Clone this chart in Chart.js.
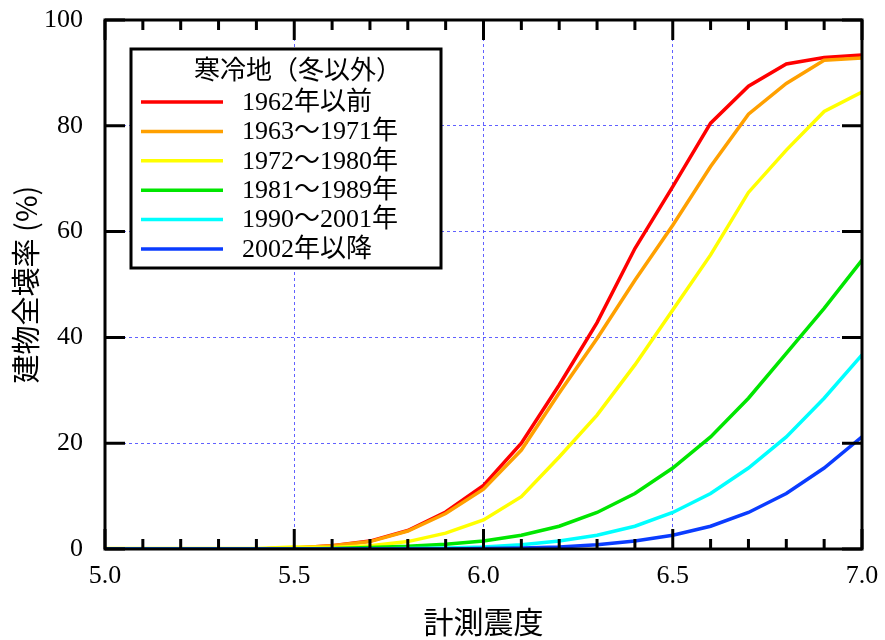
<!DOCTYPE html>
<html>
<head>
<meta charset="utf-8">
<script src="https://cdn.jsdelivr.net/npm/chart.js@4.4.1/dist/chart.umd.min.js"></script>
<style>
  body { margin: 0; background: #fff; }
  #wrap { width: 885px; height: 640px; }
</style>
</head>
<body>
<div id="wrap"><canvas id="myChart" width="885" height="640"></canvas></div>
<script>
// Intensity values on the x axis (計測震度)
const intensity = [5.0, 5.1, 5.2, 5.3, 5.4, 5.5, 5.6, 5.7, 5.8, 5.9, 6.0,
  6.1, 6.2, 6.3, 6.4, 6.5, 6.6, 6.7, 6.8, 6.9, 7.0];

// Series labels and colours
const seriesLabels = ["1962年以前", "1963～1971年", "1972～1980年", "1981～1989年", "1990～2001年", "2002年以降"];
const seriesColors = ["#ff0000", "#ffa000", "#ffff00", "#00e600", "#00ffff", "#0a3cff"];

// Collapse rate (%)
const pre1962 = [0, 0, 0, 0, 0, 0.2, 0.6, 1.5, 3.5, 7.0, 12.0, 20.0, 31.0, 42.8, 56.8, 68.5, 80.5, 87.5, 91.7, 92.9, 93.4];
const y1963 = [0, 0, 0, 0, 0, 0.2, 0.6, 1.4, 3.4, 6.7, 11.3, 18.7, 29.5, 39.8, 50.8, 61.2, 72.3, 82.2, 88.0, 92.4, 92.8];
const y1972 = [0.1, 0.1, 0.1, 0.1, 0.1, 0.4, 0.3, 0.6, 1.4, 3.0, 5.5, 9.9, 17.4, 25.3, 34.8, 45.2, 55.6, 67.4, 75.4, 82.7, 86.4];
const y1981 = [0, 0, 0, 0, 0, 0, 0.1, 0.3, 0.5, 0.9, 1.5, 2.6, 4.3, 6.9, 10.5, 15.3, 21.2, 28.5, 37.0, 45.5, 54.6];
const y1990 = [0, 0, 0, 0, 0, 0, 0, 0, 0.1, 0.2, 0.4, 0.8, 1.5, 2.6, 4.3, 6.9, 10.5, 15.3, 21.2, 28.5, 36.7];
const post2002 = [0, 0, 0, 0, 0, 0, 0, 0, 0, 0, 0.1, 0.2, 0.4, 0.8, 1.5, 2.6, 4.3, 6.9, 10.5, 15.3, 21.2];

// Axis ticks
const xMajorTicks = [5.0, 5.5, 6.0, 6.5, 7.0];
const yTicks = [0, 20, 40, 60, 80, 100];

const legendTitle = "寒冷地（冬以外）";
const serifFont = "'Liberation Serif', 'Noto Sans CJK JP', serif";
const sansFont = "'Noto Sans CJK JP', sans-serif";
const gridColor = "rgba(80, 80, 255, 0.9)";

const allSeries = [pre1962, y1963, y1972, y1981, y1990, post2002];

const isMajorX = (v) => xMajorTicks.some((m) => Math.abs(m - v) < 1e-6);

// Frame, inward ticks and the boxed legend
const framePlugin = {
  id: "frame",
  afterDraw(chart) {
    const { ctx, chartArea: a, scales } = chart;
    const xs = scales.x, ys = scales.y;
    ctx.save();
    ctx.strokeStyle = "#000";
    ctx.lineWidth = 3;
    ctx.beginPath();
    xs.ticks.forEach((t) => {
      const px = xs.getPixelForValue(t.value);
      const len = isMajorX(t.value) ? 20 : 10;
      ctx.moveTo(px, a.bottom); ctx.lineTo(px, a.bottom - len);
      ctx.moveTo(px, a.top); ctx.lineTo(px, a.top + len);
    });
    ys.ticks.forEach((t) => {
      const py = ys.getPixelForValue(t.value);
      ctx.moveTo(a.left, py); ctx.lineTo(a.left + 20, py);
      ctx.moveTo(a.right, py); ctx.lineTo(a.right - 20, py);
    });
    ctx.stroke();
    ctx.strokeRect(a.left, a.top, a.right - a.left, a.bottom - a.top);

    // legend box
    const bx = 131, by = 49, bw = 310, bh = 219;
    ctx.fillStyle = "#fff";
    ctx.fillRect(bx, by, bw, bh);
    ctx.strokeRect(bx, by, bw, bh);
    ctx.fillStyle = "#000";
    ctx.font = "26px " + serifFont;
    ctx.textBaseline = "middle";
    ctx.textAlign = "center";
    ctx.fillText(legendTitle, 298, 72);
    ctx.textAlign = "left";
    chart.data.datasets.forEach((ds, i) => {
      const ry = 102 + i * 29.4;
      ctx.strokeStyle = ds.borderColor;
      ctx.lineWidth = 3.5;
      ctx.beginPath();
      ctx.moveTo(141, ry); ctx.lineTo(223, ry);
      ctx.stroke();
      ctx.fillStyle = "#000";
      ctx.fillText(ds.label, 242, ry + 1);
    });
    ctx.restore();
  },
};

const ctx = document.getElementById("myChart").getContext("2d");
const myChart = new Chart(ctx, {
  type: "line",
  data: {
    datasets: allSeries.map((vals, i) => ({
      label: seriesLabels[i],
      data: intensity.map((x, j) => ({ x: x, y: vals[j] })),
      borderColor: seriesColors[i],
      borderWidth: 3.5,
      pointRadius: 0,
      tension: 0,
      fill: false,
      order: allSeries.length - i,
    })),
  },
  options: {
    responsive: false,
    animation: false,
    devicePixelRatio: 1,
    layout: { padding: { top: 20, right: 23, left: 0, bottom: 0 } },
    plugins: { legend: { display: false }, tooltip: { enabled: false } },
    scales: {
      x: {
        type: "linear",
        min: 5,
        max: 7,
        afterBuildTicks: (scale) => {
          scale.ticks = intensity.map((v) => ({ value: v }));
        },
        afterFit: (scale) => {
          scale.height = 91;
          scale.paddingLeft = 0;
          scale.paddingRight = 0;
        },
        ticks: {
          autoSkip: false,
          maxRotation: 0,
          padding: 12,
          color: "#000",
          font: { family: serifFont, size: 26 },
          callback: (v) => (isMajorX(v) ? Number(v).toFixed(1) : ""),
        },
        grid: {
          drawTicks: false,
          color: (c) => (c.tick && isMajorX(c.tick.value) && c.tick.value > 5 && c.tick.value < 7 ? gridColor : "transparent"),
          lineWidth: 1,
        },
        border: { display: false, dash: [3, 3] },
        title: {
          display: true,
          text: "計測震度",
          color: "#000",
          font: { family: sansFont, size: 30 },
          padding: { top: 0, bottom: 0 },
        },
      },
      y: {
        min: 0,
        max: 100,
        afterBuildTicks: (scale) => {
          scale.ticks = yTicks.map((v) => ({ value: v }));
        },
        afterFit: (scale) => {
          scale.width = 105;
          scale.paddingTop = 0;
          scale.paddingBottom = 0;
        },
        ticks: {
          padding: 22,
          color: "#000",
          font: { family: serifFont, size: 26 },
        },
        grid: {
          drawTicks: false,
          color: (c) => (c.tick && c.tick.value > 0 && c.tick.value < 100 ? gridColor : "transparent"),
          lineWidth: 1,
        },
        border: { display: false, dash: [3, 3] },
        title: {
          display: true,
          text: "建物全壊率 (%)",
          color: "#000",
          font: { family: sansFont, size: 29 },
          padding: { top: 9, bottom: 0 },
        },
      },
    },
  },
  plugins: [framePlugin],
});
</script>
</body>
</html>
